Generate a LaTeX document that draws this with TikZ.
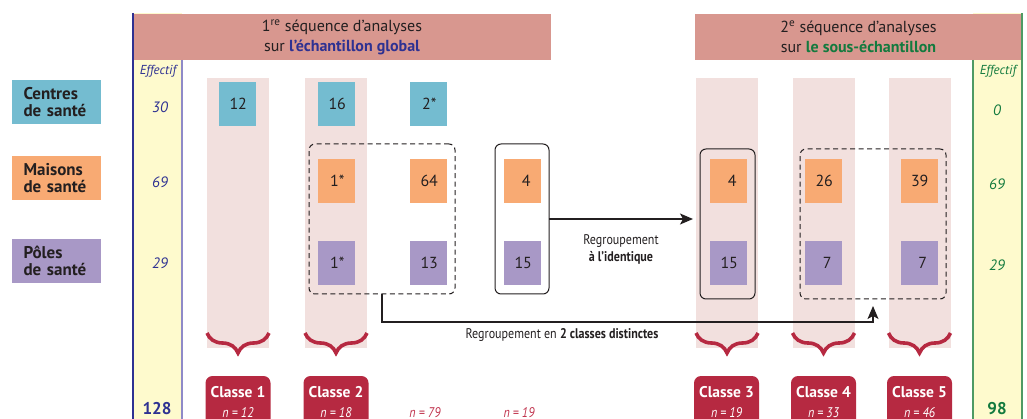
\documentclass[tikz,border=0pt]{standalone}
\usepackage{fontspec}
\setmainfont{PT Sans}
\newfontfamily\condfont{PT Sans}[FakeStretch=0.86]
\usetikzlibrary{decorations.pathreplacing,arrows.meta,calc}
\definecolor{hdr}{HTML}{D8978F}
\definecolor{colpink}{HTML}{F2E0DE}
\definecolor{cyanb}{HTML}{74BCD0}
\definecolor{orangeb}{HTML}{F8AA73}
\definecolor{purpleb}{HTML}{A898C6}
\definecolor{yellowb}{HTML}{FEFACD}
\definecolor{classred}{HTML}{B62941}
\definecolor{nred}{HTML}{C0334D}
\definecolor{blueT}{HTML}{2E3192}
\definecolor{blueL}{HTML}{8F8AC8}
\definecolor{greenT}{HTML}{137A3E}
\definecolor{greenL}{HTML}{4E9A64}
\definecolor{ink}{HTML}{231F20}
\begin{document}
\begin{tikzpicture}[x=1pt,y=-1pt,
  every node/.style={inner sep=0pt, outer sep=0pt},
  sq/.style={minimum width=37pt, minimum height=44pt, text width=16pt, align=right,
    font=\fontsize{16}{16}\selectfont, text=ink},
  cyansq/.style={sq, fill=cyanb},
  orangesq/.style={sq, fill=orangeb},
  purplesq/.style={sq, fill=purpleb},
  rowlab/.style={minimum width=89pt, minimum height=44pt, text width=66pt, align=left,
    font=\fontsize{17}{17}\selectfont\bfseries, text=ink},
  pinkcol/.style={fill=colpink, minimum width=62pt, minimum height=270pt},
  hdrbox/.style={fill=hdr, minimum height=46pt, align=center,
    font=\fontsize{16}{20}\selectfont, text=ink},
  grpdash/.style={draw=ink, line width=1pt, dash pattern=on 5pt off 3.5pt,
    rounded corners=6pt, minimum width=146pt, minimum height=150pt},
  grpsolid/.style={draw=ink, line width=1pt, rounded corners=6pt,
    minimum height=150pt},
  bracestyle/.style={draw=classred, line width=3.6pt,
    decorate, decoration={brace, mirror, amplitude=20pt}},
  classbox/.style={fill=classred, rounded corners=7pt, minimum width=65pt,
    minimum height=50pt, anchor=north},
  classtxt/.style={anchor=base, text=white, font=\fontsize{15.5}{15.5}\selectfont\bfseries},
  ntxt/.style={anchor=base, font=\fontsize{14}{14}\selectfont\condfont\itshape},
  effblue/.style={anchor=base, text=blueT, font=\fontsize{15}{15}\selectfont\itshape},
  effgreen/.style={anchor=base, text=greenT, font=\fontsize{15}{15}\selectfont\itshape},
  conn/.style={draw=ink, line width=1.2pt, -{Stealth[length=13pt,width=11pt,inset=3pt]}},
  lbl/.style={align=center, text=ink, font=\fontsize{14}{17}\selectfont\condfont}
]
\useasboundingbox (0,0) rectangle (1027,419);
\clip (0,0) rectangle (1027,419);

% yellow effectif columns
\fill[yellowb] (133,13) rectangle (182,419);
\fill[yellowb] (973,13) rectangle (1022,419);

% headers
\node[hdrbox, minimum width=418pt] (h1) at (342,37)
  {1\textsuperscript{re} séquence d’analyses\\sur {\bfseries\color{blueT}l’échantillon global}};
\node[hdrbox, minimum width=327pt] (h2) at (858.5,37)
  {2\textsuperscript{e} séquence d’analyses\\sur {\bfseries\color{greenT}le sous-échantillon}};

\draw[blueT, line width=1.2pt] (133,13) -- (133,419);
\draw[blueL, line width=1.2pt] (182,60) -- (182,419);
\draw[greenL, line width=1.2pt] (973,60) -- (973,419);
\draw[greenL, line width=1.2pt] (1022,13) -- (1022,419);

% row labels
\node[rowlab, fill=cyanb] (lc) at (56.5,102) {Centres\\de santé};
\node[rowlab, fill=orangeb] (lm) at (56.5,178) {Maisons\\de santé};
\node[rowlab, fill=purpleb] (lp) at (56.5,261) {Pôles\\de santé};

% effectifs
\node[effblue, font=\fontsize{13}{13}\selectfont\itshape] (e1) at (158,75) {Effectif};
\node[effblue] (e1a) at (160,113) {30};
\node[effblue] (e1b) at (160,188) {69};
\node[effblue] (e1c) at (160,269) {29};
\node[effgreen, font=\fontsize{13}{13}\selectfont\itshape] (e2) at (998,75) {Effectif};
\node[effgreen] (e2a) at (997,116) {0};
\node[effgreen] (e2b) at (997,190) {69};
\node[effgreen] (e2c) at (997,271) {29};
\node[anchor=base, text=blueT, font=\fontsize{17}{17}\selectfont\bfseries] (t1) at (157,414) {128};
\node[anchor=base, text=greenT, font=\fontsize{17}{17}\selectfont\bfseries] (t2) at (997,414) {98};

% pink columns
\node[pinkcol] (p1) at (238,213) {};
\node[pinkcol] (p2) at (336,213) {};
\node[pinkcol] (p5) at (727,213) {};
\node[pinkcol] (p6) at (823.5,213) {};
\node[pinkcol] (p7) at (919.5,213) {};

% squares
\node[cyansq] (s11) at (237.5,104) {12};
\node[cyansq] (s21) at (336.5,104) {16};
\node[cyansq] (s31) at (428.5,104) {2*};
\node[orangesq] (s22) at (336.5,181) {1*};
\node[orangesq] (s32) at (428.5,181) {64};
\node[orangesq] (s42) at (522.5,181) {4};
\node[purplesq] (s23) at (336.5,263) {1*};
\node[purplesq] (s33) at (428.5,263) {13};
\node[purplesq] (s43) at (522.5,263) {15};
\node[orangesq] (s52) at (728.5,181) {4};
\node[purplesq] (s53) at (728.5,263) {15};
\node[orangesq] (s62) at (823.5,181) {26};
\node[purplesq] (s63) at (823.5,263) {7};
\node[orangesq] (s72) at (919,181) {39};
\node[purplesq] (s73) at (919,263) {7};

% groups
\node[grpdash] (g1) at (382,219) {};
\node[grpsolid, minimum width=54pt] (g2) at (522,219) {};
\node[grpsolid, minimum width=55pt] (g3) at (727.5,224) {};
\node[grpdash] (g4) at (873,224) {};

% connectors
\draw[conn] (g2.east) -- ($(g3.west |- g2.east)+(-7,0)$);
\node[lbl] (r1) at (621,249) {Regroupement\\\bfseries à l’identique};
\draw[conn, shorten >=7pt] (g1.south) -- ++(0,28) -| (g4.south);
\node[lbl, anchor=base] (r2) at (562,338) {Regroupement en \textbf{2 classes distinctes}};

% braces
\foreach \p in {p1,p2,p5,p6,p7}
  \draw[bracestyle] ($(\p.south west)+(0,-15)$) -- ($(\p.south east)+(0,-15)$);

% classes
\node[classbox] (k1) at (238,376) {};
\node[classbox] (k2) at (336,376) {};
\node[classbox] (k3) at (726.5,376) {};
\node[classbox] (k4) at (823.5,376) {};
\node[classbox] (k5) at (919.5,376) {};
\node[classtxt] (k1a) at (238,397) {Classe 1};
\node[classtxt] (k2a) at (336,397) {Classe 2};
\node[classtxt] (k3a) at (726.5,397) {Classe 3};
\node[classtxt] (k4a) at (823.5,397) {Classe 4};
\node[classtxt] (k5a) at (919.5,397) {Classe 5};
\node[ntxt, text=white] (k1b) at (238,417) {n = 12};
\node[ntxt, text=white] (k2b) at (336,417) {n = 18};
\node[ntxt, text=white] (k3b) at (726.5,417) {n = 19};
\node[ntxt, text=white] (k4b) at (823.5,417) {n = 33};
\node[ntxt, text=white] (k5b) at (919.5,417) {n = 46};
\node[ntxt, text=nred] (n3) at (425,417) {n = 79};
\node[ntxt, text=nred] (n4) at (519,417) {n = 19};
\end{tikzpicture}
\end{document}
